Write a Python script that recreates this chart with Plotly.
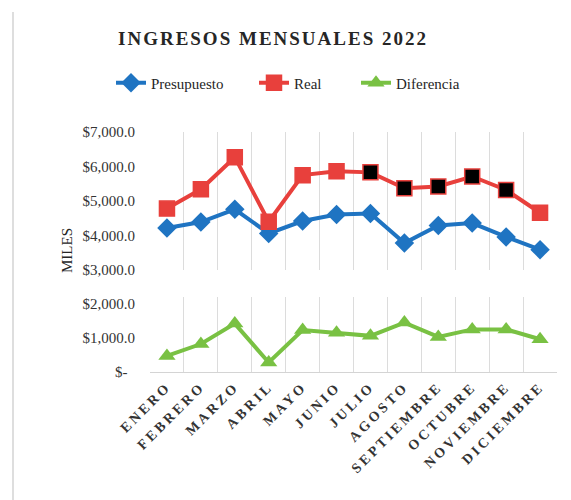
import plotly.graph_objects as go

meses = ["ENERO", "FEBRERO", "MARZO", "ABRIL", "MAYO", "JUNIO", "JULIO",
         "AGOSTO", "SEPTIEMBRE", "OCTUBRE", "NOVIEMBRE", "DICIEMBRE"]
presupuesto = [4220, 4390, 4760, 4060, 4420, 4610, 4640, 3780, 4290, 4360, 3960, 3590]
real = [4780, 5340, 6270, 4400, 5750, 5860, 5830, 5370, 5420, 5710, 5320, 4660]
diferencia = [470, 820, 1420, 280, 1230, 1150, 1060, 1450, 1030, 1250, 1250, 960]
real_colores = ["#E8403C"] * 6 + ["#000000"] * 5 + ["#E8403C"]

upper_ticks = [3000, 4000, 5000, 6000, 7000]
upper_text = ["$3,000.0", "$4,000.0", "$5,000.0", "$6,000.0", "$7,000.0"]
lower_ticks = [0, 1000, 2000]
lower_text = ["$-\u00a0\u00a0", "$1,000.0", "$2,000.0"]

# page body has an 8px margin: size the figure so it fits the window
OFF = 8
W, H = 571 - OFF, 500 - OFF


def px(x):
    return (x - OFF) / W


def py(y):
    return 1 - (y - OFF) / H


SERIF = "'Liberation Serif', 'Times New Roman', serif"
BLUE = "#1F74C2"
RED = "#E8403C"
GREEN = "#79C143"

fig = go.Figure()
fig.add_trace(go.Scatter(x=meses, y=presupuesto, name="Presupuesto", mode="lines+markers",
                         line=dict(color=BLUE, width=4),
                         marker=dict(symbol="diamond", size=15, color=BLUE),
                         xaxis="x", yaxis="y", legend="legend"))
fig.add_trace(go.Scatter(x=meses, y=real, name="Real", mode="lines+markers",
                         line=dict(color=RED, width=4),
                         marker=dict(symbol="square", size=15, color=real_colores,
                                     line=dict(color=RED, width=1.5)),
                         xaxis="x", yaxis="y", legend="legend2"))
fig.add_trace(go.Scatter(x=meses, y=diferencia, name="Diferencia", mode="lines+markers",
                         line=dict(color=GREEN, width=4),
                         marker=dict(symbol="triangle-up", size=15, color=GREEN),
                         xaxis="x2", yaxis="y2", legend="legend3"))

ticktext_x = ['<span style="letter-spacing:3px"><b>%s</b></span>' % m for m in meses]

legend_font = dict(family=SERIF, size=15, color="#262626")


def leg(text_start):
    return dict(orientation="h", x=px(text_start - 41), xanchor="left",
                y=py(83), yanchor="middle", font=legend_font,
                bgcolor="rgba(0,0,0,0)")


fig.update_layout(
    width=W, height=H,
    margin=dict(l=0, r=0, t=0, b=0, autoexpand=False),
    paper_bgcolor="white", plot_bgcolor="white",
    font=dict(family=SERIF, size=15, color="#404040"),
    title=dict(text='<span style="letter-spacing:2px"><b>INGRESOS MENSUALES 2022</b></span>',
               x=px(273), xanchor="center", y=py(38), yanchor="middle",
               font=dict(family=SERIF, size=19, color="#262626")),
    showlegend=True,
    legend=leg(152), legend2=leg(295), legend3=leg(397),
    xaxis=dict(domain=[px(150), px(557)], anchor="y", showticklabels=False, showgrid=True,
               gridcolor="#dcdcdc", gridwidth=1, tickson="boundaries", ticks="",
               zeroline=False, showline=False, range=[-0.5, 11.5], automargin=False),
    yaxis=dict(domain=[py(270), py(132)], range=[3000, 7000],
               tickvals=upper_ticks, ticktext=upper_text, showgrid=False, zeroline=False,
               ticks="", ticklabelstandoff=14, automargin=False,
               tickfont=dict(family=SERIF, size=15, color="#333333")),
    xaxis2=dict(domain=[px(150), px(557)], anchor="y2", showgrid=True, gridcolor="#dcdcdc",
                tickson="boundaries", ticks="", zeroline=False, showline=True,
                linecolor="#d4d4d4", linewidth=1, range=[-0.5, 11.5], automargin=False,
                tickmode="array", tickvals=meses, ticktext=ticktext_x, tickangle=-45,
                tickfont=dict(family=SERIF, size=14, color="#333333")),
    yaxis2=dict(domain=[py(372), py(297)], anchor="x2", range=[0, 2200],
                tickvals=lower_ticks, ticktext=lower_text, showgrid=False, zeroline=False,
                ticks="", ticklabelstandoff=14, automargin=False,
                tickfont=dict(family=SERIF, size=15, color="#333333")),
    annotations=[dict(text="MILES", x=px(57), y=py(251), xref="paper", yref="paper",
                      showarrow=False, textangle=-90,
                      font=dict(family=SERIF, size=15, color="#262626"))],
    shapes=[dict(type="line", xref="paper", yref="paper", x0=px(13), x1=px(13),
                 y0=0, y1=py(12), line=dict(color="#dedede", width=2))],
)

fig.write_html("out.html")
